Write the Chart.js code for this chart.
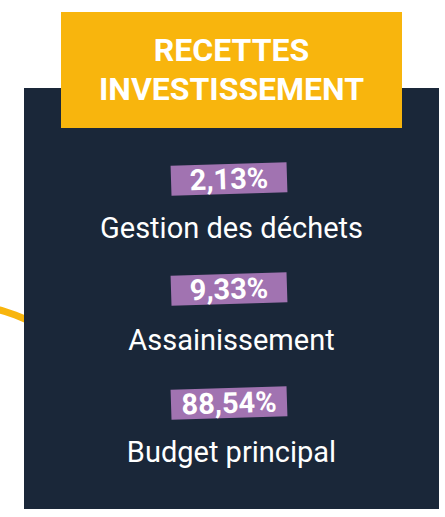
<!DOCTYPE html>
<html>
<head>
<meta charset="utf-8">
<script src="https://cdn.jsdelivr.net/npm/chart.js@4/dist/chart.umd.min.js"></script>
<style>
  html, body { margin: 0; padding: 0; width: 445px; height: 517px; overflow: hidden; background: #ffffff; font-family: Roboto, "Noto Sans", sans-serif; }
  #wrap { position: relative; width: 445px; height: 517px; overflow: hidden; }
  #donutClip { position: absolute; left: 0; top: 0; width: 445px; height: 509px; overflow: hidden; z-index: 1; }
  #donutBox { position: absolute; left: -254px; top: 299px; width: 400px; height: 400px; }
  #panel { position: absolute; left: 24px; top: 88px; width: 415px; height: 421px; background: #1a2739; z-index: 2; }
  #header { position: absolute; left: 61px; top: 12px; width: 341px; height: 116px; background: #f8b50d; z-index: 3;
            color: #fff; font-weight: 700; font-size: 32px; line-height: 39px; text-align: center; display: flex; flex-direction: column; justify-content: center; padding-left: 0; box-sizing: border-box; }
  .pct { position: absolute; left: 171px; width: 116px; height: 30px; background: #a173b1; transform: rotate(-1.8deg); z-index: 4;
         font-weight: 700; font-size: 29px; line-height: 30px; text-align: center; color: #fff; }
  .lbl { position: absolute; left: 24px; width: 415px; font-size: 29px; line-height: 34px; color: #fff; text-align: center; z-index: 4; }
</style>
</head>
<body>
<div id="wrap">
  <div id="donutClip"><div id="donutBox"><canvas id="c" width="400" height="400"></canvas></div></div>
  <div id="panel"></div>
  <div id="header"></div>
  <div id="items"></div>
</div>
<script>
const title = ['RECETTES', 'INVESTISSEMENT'];
const categories = ['Gestion des déchets', 'Assainissement', 'Budget principal'];
const values = [2.13, 9.33, 88.54];
const valueLabels = ['2,13%', '9,33%', '88,54%'];
const colors = ['#a173b1', '#7c5a92', '#f8b50d'];

// layout (positions only)
const pctCentres = [179, 289, 403];
const lblCentres = [228, 340, 452];

const header = document.getElementById('header');
title.forEach(t => { const d = document.createElement('div'); d.textContent = t; header.appendChild(d); });

const itemsEl = document.getElementById('items');
categories.forEach((cat, i) => {
  const p = document.createElement('div');
  p.className = 'pct';
  p.style.top = (pctCentres[i] - 15) + 'px';
  p.textContent = valueLabels[i];
  const l = document.createElement('div');
  l.className = 'lbl';
  l.style.top = (lblCentres[i] - 17) + 'px';
  l.textContent = cat;
  itemsEl.appendChild(p); itemsEl.appendChild(l);
});

new Chart(document.getElementById('c'), {
  type: 'doughnut',
  data: {
    labels: categories,
    datasets: [{ data: values, backgroundColor: colors, borderWidth: 0 }]
  },
  options: {
    responsive: false,
    animation: false,
    rotation: 180,
    cutout: '96.5%',
    layout: { padding: 0 },
    plugins: { legend: { display: false }, tooltip: { enabled: false } }
  }
});
</script>
</body>
</html>
